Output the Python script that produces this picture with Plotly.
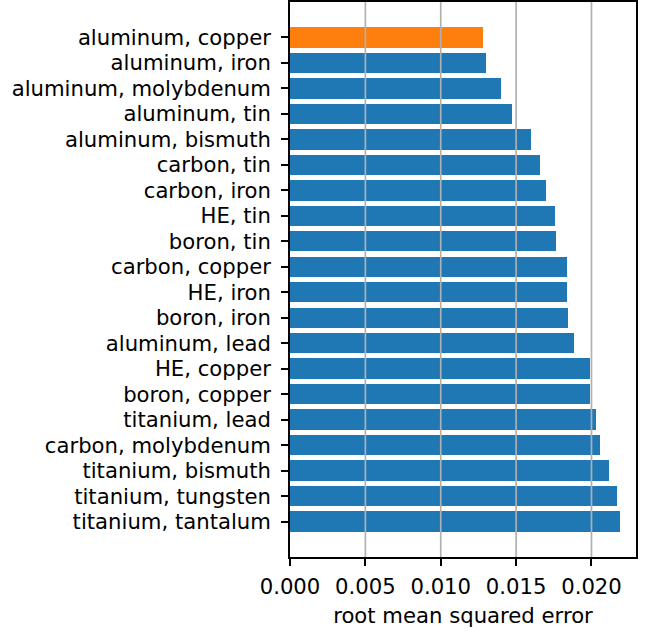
import plotly.graph_objects as go

categories = [
    "aluminum, copper", "aluminum, iron", "aluminum, molybdenum", "aluminum, tin",
    "aluminum, bismuth", "carbon, tin", "carbon, iron", "HE, tin", "boron, tin",
    "carbon, copper", "HE, iron", "boron, iron", "aluminum, lead", "HE, copper",
    "boron, copper", "titanium, lead", "carbon, molybdenum", "titanium, bismuth",
    "titanium, tungsten", "titanium, tantalum",
]
rmse = [
    0.01281, 0.01301, 0.01401, 0.01474, 0.01600, 0.01660, 0.01700, 0.01760, 0.01767,
    0.01840, 0.01840, 0.01846, 0.01886, 0.01993, 0.01993, 0.02033, 0.02059, 0.02113,
    0.02166, 0.02186,
]
highlight = "aluminum, copper"
x_ticks = [0.0, 0.005, 0.010, 0.015, 0.020]

BLUE = "#1f77b4"
ORANGE = "#ff7f0e"
colors = [ORANGE if c == highlight else BLUE for c in categories]

FONT = "DejaVu Sans"
FS = 21.2
LW = 1.67

fig = go.Figure()
fig.add_trace(go.Bar(
    x=rmse, y=categories, orientation="h", width=0.8,
    marker=dict(color=colors, line=dict(width=0)),
    showlegend=False, hoverinfo="skip",
))

n = len(categories)
pad = 0.05 * (n - 1 + 0.8)
xmax = max(rmse) * 1.05

# gridlines drawn above bars (as in the reference)
for t in x_ticks[1:]:
    fig.add_shape(type="line", xref="x", yref="paper", x0=t, x1=t, y0=0, y1=1,
                  line=dict(color="#b0b0b0", width=LW), layer="above")

fig.update_layout(
    width=649, height=633,
    margin=dict(l=290, r=13, t=2, b=76, autoexpand=False),
    plot_bgcolor="white", paper_bgcolor="white",
    font=dict(family=FONT, size=FS, color="black"),
    bargap=0,
)
fig.update_xaxes(
    range=[0, xmax], tickvals=x_ticks, tickformat=".3f",
    showgrid=False, zeroline=False,
    showline=True, mirror=True, linecolor="black", linewidth=LW,
    ticks="outside", ticklen=7, tickwidth=LW, tickcolor="black",
    tickfont=dict(family=FONT, size=FS, color="black"),
    ticklabelstandoff=3,
    title=dict(text="root mean squared error", font=dict(family=FONT, size=FS, color="black"), standoff=10),
)
fig.update_yaxes(
    type="category", categoryorder="array", categoryarray=categories,
    range=[n - 1 + 0.4 + pad, -0.4 - pad],
    showgrid=False, zeroline=False,
    showline=True, mirror=True, linecolor="black", linewidth=LW,
    ticks="outside", ticklen=7, tickwidth=LW, tickcolor="black",
    tickfont=dict(family=FONT, size=FS, color="black"),
    ticklabelstandoff=6,
)

fig.write_html("out.html", config={"displayModeBar": False},
               post_script="document.body.style.margin='0';document.body.style.padding='0';")
